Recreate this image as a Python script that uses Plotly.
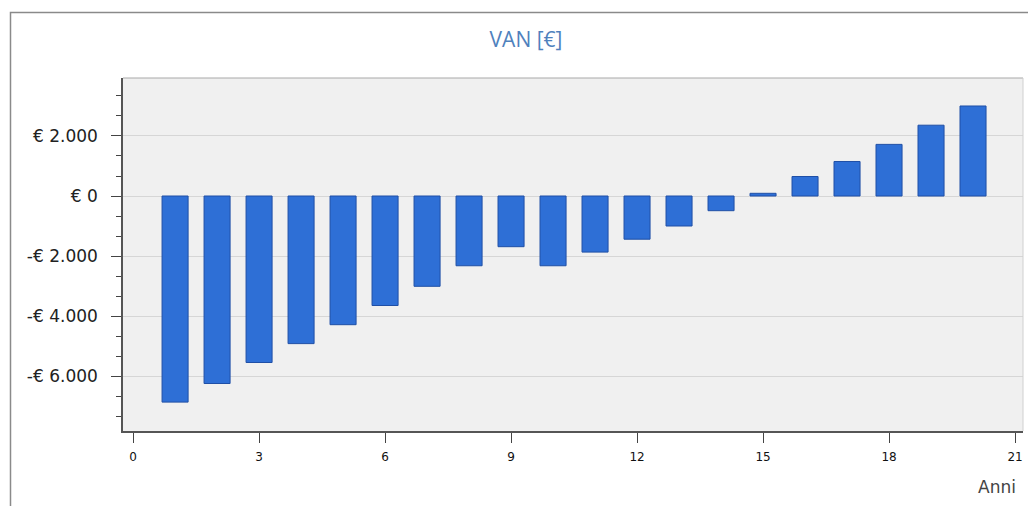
import plotly.graph_objects as go

years = list(range(1, 21))
van = [-6870, -6250, -5550, -4920, -4290, -3650, -3010, -2325, -1690, -2325,
       -1870, -1440, -1000, -490, 90, 650, 1150, 1720, 2360, 3000]

y_tickvals = [-6000, -4000, -2000, 0, 2000]
y_ticktext = ["-€ 6.000", "-€ 4.000", "-€ 2.000", "€ 0", "€ 2.000"]
x_tickvals = [0, 3, 6, 9, 12, 15, 18, 21]

W, H = 1028, 506
L, R, T, B = 123, 1023, 78, 431

fig = go.Figure()
fig.add_trace(go.Bar(
    x=years, y=van, width=0.62,
    marker=dict(color="#2e6fd6", line=dict(color="#1f4fa6", width=1)),
    showlegend=False,
))

def px_x(px):
    return (px - L) / (R - L)

def px_y(py):
    return (B - py) / (B - T)

fig.update_layout(
    width=W, height=H,
    margin=dict(l=L, r=W - R, t=T, b=H - B),
    paper_bgcolor="white",
    plot_bgcolor="#f0f0f0",
    font=dict(family="DejaVu Sans", color="#222"),
    title=dict(text="VAN [€]", x=526 / W, xanchor="center",
               y=1 - 40 / H, yanchor="middle",
               font=dict(size=21, color="#4f81bd", family="Open Sans")),
    shapes=[
        dict(type="rect", xref="paper", yref="paper",
             x0=px_x(10.5), x1=px_x(1040), y0=px_y(12.5), y1=px_y(520),
             line=dict(color="#8a8a8a", width=1.5), fillcolor="rgba(0,0,0,0)", layer="below"),
        dict(type="line", xref="paper", yref="paper", x0=0, x1=1, y0=1, y1=1,
             line=dict(color="#a8a8a8", width=1)),
        dict(type="line", xref="paper", yref="paper", x0=1, x1=1, y0=0, y1=1,
             line=dict(color="#d0d0d0", width=1)),
    ],
    annotations=[
        dict(text="Anni", xref="paper", yref="paper", x=px_x(1018), y=px_y(487),
             xanchor="right", yanchor="middle", showarrow=False,
             font=dict(size=17, color="#444", family="DejaVu Sans")),
    ],
)

fig.update_xaxes(
    range=[-0.24, 21.19],
    tickvals=x_tickvals,
    ticks="outside", ticklen=10, tickcolor="#444",
    showline=True, linecolor="#555", linewidth=1.5,
    showgrid=False, zeroline=False,
    ticklabelstandoff=4,
    tickfont=dict(size=12, color="#111", family="DejaVu Sans"),
)
fig.update_yaxes(
    range=[-7833, 3933],
    tickvals=y_tickvals, ticktext=y_ticktext,
    ticks="outside", ticklen=10, tickcolor="#444",
    showline=True, linecolor="#555", linewidth=1.5,
    showgrid=True, gridcolor="#d6d6d6", gridwidth=1,
    zeroline=False,
    ticklabelstandoff=10,
    tickfont=dict(size=17, color="#222", family="DejaVu Sans"),
    minor=dict(dtick=2000 / 3, tick0=0, ticks="outside", ticklen=5,
               tickcolor="#444", showgrid=False),
)

fig.write_html("out.html", config={"displayModeBar": False},
               post_script="document.body.style.margin='0';")
